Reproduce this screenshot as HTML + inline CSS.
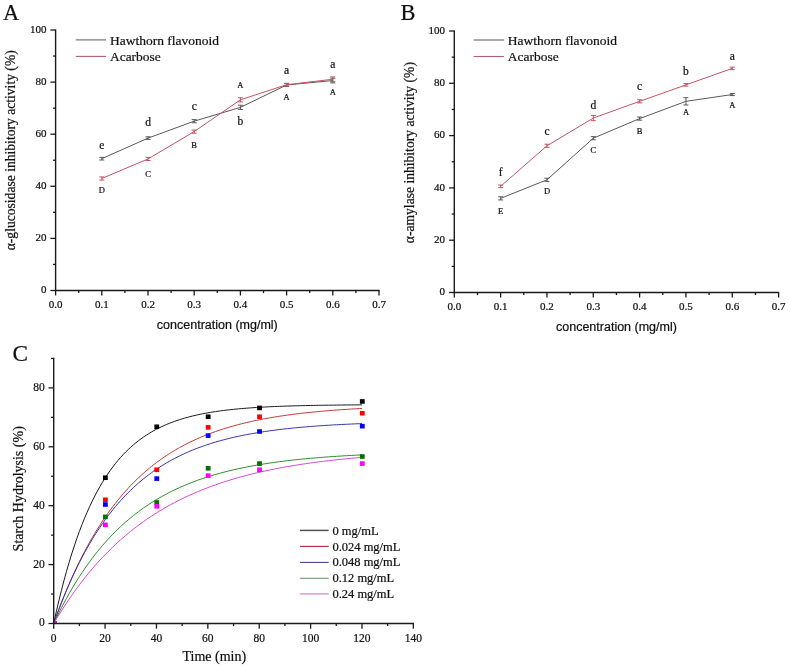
<!DOCTYPE html>
<html><head><meta charset="utf-8"><style>
html,body{margin:0;padding:0;background:#fff;}
svg{display:block;will-change:transform;}
text{fill:#111;stroke:#111;stroke-width:0.22px;}
</style></head><body>
<svg width="790" height="666" viewBox="0 0 790 666">
<rect width="790" height="666" fill="#fff"/>
<g style="opacity:0.999">
<line x1="55.60" y1="29.40" x2="55.60" y2="291.10" stroke="#1a1a1a" stroke-width="1.4"/>
<line x1="55.00" y1="290.50" x2="379.60" y2="290.50" stroke="#1a1a1a" stroke-width="1.4"/>
<line x1="50.40" y1="290.50" x2="55.60" y2="290.50" stroke="#1a1a1a" stroke-width="1.3"/>
<text x="46.40" y="293.30" font-family="Liberation Serif" font-size="11" text-anchor="end">0</text>
<line x1="53.00" y1="264.45" x2="55.60" y2="264.45" stroke="#1a1a1a" stroke-width="1.3"/>
<line x1="50.40" y1="238.40" x2="55.60" y2="238.40" stroke="#1a1a1a" stroke-width="1.3"/>
<text x="46.40" y="241.20" font-family="Liberation Serif" font-size="11" text-anchor="end">20</text>
<line x1="53.00" y1="212.35" x2="55.60" y2="212.35" stroke="#1a1a1a" stroke-width="1.3"/>
<line x1="50.40" y1="186.30" x2="55.60" y2="186.30" stroke="#1a1a1a" stroke-width="1.3"/>
<text x="46.40" y="189.10" font-family="Liberation Serif" font-size="11" text-anchor="end">40</text>
<line x1="53.00" y1="160.25" x2="55.60" y2="160.25" stroke="#1a1a1a" stroke-width="1.3"/>
<line x1="50.40" y1="134.20" x2="55.60" y2="134.20" stroke="#1a1a1a" stroke-width="1.3"/>
<text x="46.40" y="137.00" font-family="Liberation Serif" font-size="11" text-anchor="end">60</text>
<line x1="53.00" y1="108.15" x2="55.60" y2="108.15" stroke="#1a1a1a" stroke-width="1.3"/>
<line x1="50.40" y1="82.10" x2="55.60" y2="82.10" stroke="#1a1a1a" stroke-width="1.3"/>
<text x="46.40" y="84.90" font-family="Liberation Serif" font-size="11" text-anchor="end">80</text>
<line x1="53.00" y1="56.05" x2="55.60" y2="56.05" stroke="#1a1a1a" stroke-width="1.3"/>
<line x1="50.40" y1="30.00" x2="55.60" y2="30.00" stroke="#1a1a1a" stroke-width="1.3"/>
<text x="46.40" y="32.80" font-family="Liberation Serif" font-size="11" text-anchor="end">100</text>
<line x1="55.60" y1="290.50" x2="55.60" y2="295.50" stroke="#1a1a1a" stroke-width="1.3"/>
<text x="55.60" y="307.80" font-family="Liberation Serif" font-size="11" text-anchor="middle">0.0</text>
<line x1="78.70" y1="290.50" x2="78.70" y2="293.10" stroke="#1a1a1a" stroke-width="1.3"/>
<line x1="101.80" y1="290.50" x2="101.80" y2="295.50" stroke="#1a1a1a" stroke-width="1.3"/>
<text x="101.80" y="307.80" font-family="Liberation Serif" font-size="11" text-anchor="middle">0.1</text>
<line x1="124.90" y1="290.50" x2="124.90" y2="293.10" stroke="#1a1a1a" stroke-width="1.3"/>
<line x1="148.00" y1="290.50" x2="148.00" y2="295.50" stroke="#1a1a1a" stroke-width="1.3"/>
<text x="148.00" y="307.80" font-family="Liberation Serif" font-size="11" text-anchor="middle">0.2</text>
<line x1="171.10" y1="290.50" x2="171.10" y2="293.10" stroke="#1a1a1a" stroke-width="1.3"/>
<line x1="194.20" y1="290.50" x2="194.20" y2="295.50" stroke="#1a1a1a" stroke-width="1.3"/>
<text x="194.20" y="307.80" font-family="Liberation Serif" font-size="11" text-anchor="middle">0.3</text>
<line x1="217.30" y1="290.50" x2="217.30" y2="293.10" stroke="#1a1a1a" stroke-width="1.3"/>
<line x1="240.40" y1="290.50" x2="240.40" y2="295.50" stroke="#1a1a1a" stroke-width="1.3"/>
<text x="240.40" y="307.80" font-family="Liberation Serif" font-size="11" text-anchor="middle">0.4</text>
<line x1="263.50" y1="290.50" x2="263.50" y2="293.10" stroke="#1a1a1a" stroke-width="1.3"/>
<line x1="286.60" y1="290.50" x2="286.60" y2="295.50" stroke="#1a1a1a" stroke-width="1.3"/>
<text x="286.60" y="307.80" font-family="Liberation Serif" font-size="11" text-anchor="middle">0.5</text>
<line x1="309.70" y1="290.50" x2="309.70" y2="293.10" stroke="#1a1a1a" stroke-width="1.3"/>
<line x1="332.80" y1="290.50" x2="332.80" y2="295.50" stroke="#1a1a1a" stroke-width="1.3"/>
<text x="332.80" y="307.80" font-family="Liberation Serif" font-size="11" text-anchor="middle">0.6</text>
<line x1="355.90" y1="290.50" x2="355.90" y2="293.10" stroke="#1a1a1a" stroke-width="1.3"/>
<line x1="379.00" y1="290.50" x2="379.00" y2="295.50" stroke="#1a1a1a" stroke-width="1.3"/>
<text x="379.00" y="307.80" font-family="Liberation Serif" font-size="11" text-anchor="middle">0.7</text>
<text x="217.30" y="329.10" font-family="Liberation Sans" font-size="12.5" text-anchor="middle">concentration (mg/ml)</text>
<text transform="translate(14.60,250.30) rotate(-90)" font-family="Liberation Serif" font-size="13.6" text-anchor="start"><tspan font-family="Liberation Serif">α-glucosidase inhibitory activity (%)</tspan></text>
<polyline points="101.80,158.69 148.00,138.11 194.20,121.18 240.40,107.37 286.60,84.97 332.80,80.54" fill="none" stroke="#585858" stroke-width="1.0" stroke-linejoin="round"/>
<line x1="101.80" y1="157.38" x2="101.80" y2="159.99" stroke="#585858" stroke-width="1.0"/>
<line x1="99.30" y1="157.38" x2="104.30" y2="157.38" stroke="#585858" stroke-width="1.0"/>
<line x1="99.30" y1="159.99" x2="104.30" y2="159.99" stroke="#585858" stroke-width="1.0"/>
<line x1="148.00" y1="136.80" x2="148.00" y2="139.41" stroke="#585858" stroke-width="1.0"/>
<line x1="145.50" y1="136.80" x2="150.50" y2="136.80" stroke="#585858" stroke-width="1.0"/>
<line x1="145.50" y1="139.41" x2="150.50" y2="139.41" stroke="#585858" stroke-width="1.0"/>
<line x1="194.20" y1="119.61" x2="194.20" y2="122.74" stroke="#585858" stroke-width="1.0"/>
<line x1="191.70" y1="119.61" x2="196.70" y2="119.61" stroke="#585858" stroke-width="1.0"/>
<line x1="191.70" y1="122.74" x2="196.70" y2="122.74" stroke="#585858" stroke-width="1.0"/>
<line x1="240.40" y1="105.28" x2="240.40" y2="109.45" stroke="#585858" stroke-width="1.0"/>
<line x1="237.90" y1="105.28" x2="242.90" y2="105.28" stroke="#585858" stroke-width="1.0"/>
<line x1="237.90" y1="109.45" x2="242.90" y2="109.45" stroke="#585858" stroke-width="1.0"/>
<line x1="286.60" y1="83.40" x2="286.60" y2="86.53" stroke="#585858" stroke-width="1.0"/>
<line x1="284.10" y1="83.40" x2="289.10" y2="83.40" stroke="#585858" stroke-width="1.0"/>
<line x1="284.10" y1="86.53" x2="289.10" y2="86.53" stroke="#585858" stroke-width="1.0"/>
<line x1="332.80" y1="78.19" x2="332.80" y2="82.88" stroke="#585858" stroke-width="1.0"/>
<line x1="330.30" y1="78.19" x2="335.30" y2="78.19" stroke="#585858" stroke-width="1.0"/>
<line x1="330.30" y1="82.88" x2="335.30" y2="82.88" stroke="#585858" stroke-width="1.0"/>
<polyline points="101.80,178.49 148.00,158.95 194.20,131.59 240.40,99.81 286.60,84.71 332.80,79.23" fill="none" stroke="#c25464" stroke-width="1.0" stroke-linejoin="round"/>
<line x1="101.80" y1="176.92" x2="101.80" y2="180.05" stroke="#c25464" stroke-width="1.0"/>
<line x1="99.30" y1="176.92" x2="104.30" y2="176.92" stroke="#c25464" stroke-width="1.0"/>
<line x1="99.30" y1="180.05" x2="104.30" y2="180.05" stroke="#c25464" stroke-width="1.0"/>
<line x1="148.00" y1="157.38" x2="148.00" y2="160.51" stroke="#c25464" stroke-width="1.0"/>
<line x1="145.50" y1="157.38" x2="150.50" y2="157.38" stroke="#c25464" stroke-width="1.0"/>
<line x1="145.50" y1="160.51" x2="150.50" y2="160.51" stroke="#c25464" stroke-width="1.0"/>
<line x1="194.20" y1="130.03" x2="194.20" y2="133.16" stroke="#c25464" stroke-width="1.0"/>
<line x1="191.70" y1="130.03" x2="196.70" y2="130.03" stroke="#c25464" stroke-width="1.0"/>
<line x1="191.70" y1="133.16" x2="196.70" y2="133.16" stroke="#c25464" stroke-width="1.0"/>
<line x1="240.40" y1="97.73" x2="240.40" y2="101.90" stroke="#c25464" stroke-width="1.0"/>
<line x1="237.90" y1="97.73" x2="242.90" y2="97.73" stroke="#c25464" stroke-width="1.0"/>
<line x1="237.90" y1="101.90" x2="242.90" y2="101.90" stroke="#c25464" stroke-width="1.0"/>
<line x1="286.60" y1="83.40" x2="286.60" y2="86.01" stroke="#c25464" stroke-width="1.0"/>
<line x1="284.10" y1="83.40" x2="289.10" y2="83.40" stroke="#c25464" stroke-width="1.0"/>
<line x1="284.10" y1="86.01" x2="289.10" y2="86.01" stroke="#c25464" stroke-width="1.0"/>
<line x1="332.80" y1="76.89" x2="332.80" y2="81.58" stroke="#c25464" stroke-width="1.0"/>
<line x1="330.30" y1="76.89" x2="335.30" y2="76.89" stroke="#c25464" stroke-width="1.0"/>
<line x1="330.30" y1="81.58" x2="335.30" y2="81.58" stroke="#c25464" stroke-width="1.0"/>
<line x1="454.30" y1="30.40" x2="454.30" y2="293.10" stroke="#1a1a1a" stroke-width="1.4"/>
<line x1="453.70" y1="292.50" x2="779.21" y2="292.50" stroke="#1a1a1a" stroke-width="1.4"/>
<line x1="449.10" y1="292.50" x2="454.30" y2="292.50" stroke="#1a1a1a" stroke-width="1.3"/>
<text x="445.10" y="295.30" font-family="Liberation Serif" font-size="11" text-anchor="end">0</text>
<line x1="451.70" y1="266.35" x2="454.30" y2="266.35" stroke="#1a1a1a" stroke-width="1.3"/>
<line x1="449.10" y1="240.20" x2="454.30" y2="240.20" stroke="#1a1a1a" stroke-width="1.3"/>
<text x="445.10" y="243.00" font-family="Liberation Serif" font-size="11" text-anchor="end">20</text>
<line x1="451.70" y1="214.05" x2="454.30" y2="214.05" stroke="#1a1a1a" stroke-width="1.3"/>
<line x1="449.10" y1="187.90" x2="454.30" y2="187.90" stroke="#1a1a1a" stroke-width="1.3"/>
<text x="445.10" y="190.70" font-family="Liberation Serif" font-size="11" text-anchor="end">40</text>
<line x1="451.70" y1="161.75" x2="454.30" y2="161.75" stroke="#1a1a1a" stroke-width="1.3"/>
<line x1="449.10" y1="135.60" x2="454.30" y2="135.60" stroke="#1a1a1a" stroke-width="1.3"/>
<text x="445.10" y="138.40" font-family="Liberation Serif" font-size="11" text-anchor="end">60</text>
<line x1="451.70" y1="109.45" x2="454.30" y2="109.45" stroke="#1a1a1a" stroke-width="1.3"/>
<line x1="449.10" y1="83.30" x2="454.30" y2="83.30" stroke="#1a1a1a" stroke-width="1.3"/>
<text x="445.10" y="86.10" font-family="Liberation Serif" font-size="11" text-anchor="end">80</text>
<line x1="451.70" y1="57.15" x2="454.30" y2="57.15" stroke="#1a1a1a" stroke-width="1.3"/>
<line x1="449.10" y1="31.00" x2="454.30" y2="31.00" stroke="#1a1a1a" stroke-width="1.3"/>
<text x="445.10" y="33.80" font-family="Liberation Serif" font-size="11" text-anchor="end">100</text>
<line x1="454.30" y1="292.50" x2="454.30" y2="297.50" stroke="#1a1a1a" stroke-width="1.3"/>
<text x="454.30" y="309.80" font-family="Liberation Serif" font-size="11" text-anchor="middle">0.0</text>
<line x1="477.47" y1="292.50" x2="477.47" y2="295.10" stroke="#1a1a1a" stroke-width="1.3"/>
<line x1="500.63" y1="292.50" x2="500.63" y2="297.50" stroke="#1a1a1a" stroke-width="1.3"/>
<text x="500.63" y="309.80" font-family="Liberation Serif" font-size="11" text-anchor="middle">0.1</text>
<line x1="523.80" y1="292.50" x2="523.80" y2="295.10" stroke="#1a1a1a" stroke-width="1.3"/>
<line x1="546.96" y1="292.50" x2="546.96" y2="297.50" stroke="#1a1a1a" stroke-width="1.3"/>
<text x="546.96" y="309.80" font-family="Liberation Serif" font-size="11" text-anchor="middle">0.2</text>
<line x1="570.12" y1="292.50" x2="570.12" y2="295.10" stroke="#1a1a1a" stroke-width="1.3"/>
<line x1="593.29" y1="292.50" x2="593.29" y2="297.50" stroke="#1a1a1a" stroke-width="1.3"/>
<text x="593.29" y="309.80" font-family="Liberation Serif" font-size="11" text-anchor="middle">0.3</text>
<line x1="616.46" y1="292.50" x2="616.46" y2="295.10" stroke="#1a1a1a" stroke-width="1.3"/>
<line x1="639.62" y1="292.50" x2="639.62" y2="297.50" stroke="#1a1a1a" stroke-width="1.3"/>
<text x="639.62" y="309.80" font-family="Liberation Serif" font-size="11" text-anchor="middle">0.4</text>
<line x1="662.78" y1="292.50" x2="662.78" y2="295.10" stroke="#1a1a1a" stroke-width="1.3"/>
<line x1="685.95" y1="292.50" x2="685.95" y2="297.50" stroke="#1a1a1a" stroke-width="1.3"/>
<text x="685.95" y="309.80" font-family="Liberation Serif" font-size="11" text-anchor="middle">0.5</text>
<line x1="709.12" y1="292.50" x2="709.12" y2="295.10" stroke="#1a1a1a" stroke-width="1.3"/>
<line x1="732.28" y1="292.50" x2="732.28" y2="297.50" stroke="#1a1a1a" stroke-width="1.3"/>
<text x="732.28" y="309.80" font-family="Liberation Serif" font-size="11" text-anchor="middle">0.6</text>
<line x1="755.44" y1="292.50" x2="755.44" y2="295.10" stroke="#1a1a1a" stroke-width="1.3"/>
<line x1="778.61" y1="292.50" x2="778.61" y2="297.50" stroke="#1a1a1a" stroke-width="1.3"/>
<text x="778.61" y="309.80" font-family="Liberation Serif" font-size="11" text-anchor="middle">0.7</text>
<text x="616.46" y="330.90" font-family="Liberation Sans" font-size="12.5" text-anchor="middle">concentration (mg/ml)</text>
<text transform="translate(414.00,243.20) rotate(-90)" font-family="Liberation Serif" font-size="13.6" text-anchor="start"><tspan font-family="Liberation Serif">α-amylase inhibitory activity (%)</tspan></text>
<polyline points="500.63,198.36 546.96,179.79 593.29,138.21 639.62,118.60 685.95,101.34 732.28,94.54" fill="none" stroke="#585858" stroke-width="1.0" stroke-linejoin="round"/>
<line x1="500.63" y1="196.79" x2="500.63" y2="199.93" stroke="#585858" stroke-width="1.0"/>
<line x1="498.13" y1="196.79" x2="503.13" y2="196.79" stroke="#585858" stroke-width="1.0"/>
<line x1="498.13" y1="199.93" x2="503.13" y2="199.93" stroke="#585858" stroke-width="1.0"/>
<line x1="546.96" y1="178.22" x2="546.96" y2="181.36" stroke="#585858" stroke-width="1.0"/>
<line x1="544.46" y1="178.22" x2="549.46" y2="178.22" stroke="#585858" stroke-width="1.0"/>
<line x1="544.46" y1="181.36" x2="549.46" y2="181.36" stroke="#585858" stroke-width="1.0"/>
<line x1="593.29" y1="136.65" x2="593.29" y2="139.78" stroke="#585858" stroke-width="1.0"/>
<line x1="590.79" y1="136.65" x2="595.79" y2="136.65" stroke="#585858" stroke-width="1.0"/>
<line x1="590.79" y1="139.78" x2="595.79" y2="139.78" stroke="#585858" stroke-width="1.0"/>
<line x1="639.62" y1="117.03" x2="639.62" y2="120.17" stroke="#585858" stroke-width="1.0"/>
<line x1="637.12" y1="117.03" x2="642.12" y2="117.03" stroke="#585858" stroke-width="1.0"/>
<line x1="637.12" y1="120.17" x2="642.12" y2="120.17" stroke="#585858" stroke-width="1.0"/>
<line x1="685.95" y1="97.68" x2="685.95" y2="105.00" stroke="#585858" stroke-width="1.0"/>
<line x1="683.45" y1="97.68" x2="688.45" y2="97.68" stroke="#585858" stroke-width="1.0"/>
<line x1="683.45" y1="105.00" x2="688.45" y2="105.00" stroke="#585858" stroke-width="1.0"/>
<line x1="732.28" y1="93.50" x2="732.28" y2="95.59" stroke="#585858" stroke-width="1.0"/>
<line x1="729.78" y1="93.50" x2="734.78" y2="93.50" stroke="#585858" stroke-width="1.0"/>
<line x1="729.78" y1="95.59" x2="734.78" y2="95.59" stroke="#585858" stroke-width="1.0"/>
<polyline points="500.63,186.33 546.96,145.80 593.29,118.08 639.62,101.34 685.95,84.87 732.28,68.39" fill="none" stroke="#c25464" stroke-width="1.0" stroke-linejoin="round"/>
<line x1="500.63" y1="185.02" x2="500.63" y2="187.64" stroke="#c25464" stroke-width="1.0"/>
<line x1="498.13" y1="185.02" x2="503.13" y2="185.02" stroke="#c25464" stroke-width="1.0"/>
<line x1="498.13" y1="187.64" x2="503.13" y2="187.64" stroke="#c25464" stroke-width="1.0"/>
<line x1="546.96" y1="144.23" x2="546.96" y2="147.37" stroke="#c25464" stroke-width="1.0"/>
<line x1="544.46" y1="144.23" x2="549.46" y2="144.23" stroke="#c25464" stroke-width="1.0"/>
<line x1="544.46" y1="147.37" x2="549.46" y2="147.37" stroke="#c25464" stroke-width="1.0"/>
<line x1="593.29" y1="115.46" x2="593.29" y2="120.69" stroke="#c25464" stroke-width="1.0"/>
<line x1="590.79" y1="115.46" x2="595.79" y2="115.46" stroke="#c25464" stroke-width="1.0"/>
<line x1="590.79" y1="120.69" x2="595.79" y2="120.69" stroke="#c25464" stroke-width="1.0"/>
<line x1="639.62" y1="99.77" x2="639.62" y2="102.91" stroke="#c25464" stroke-width="1.0"/>
<line x1="637.12" y1="99.77" x2="642.12" y2="99.77" stroke="#c25464" stroke-width="1.0"/>
<line x1="637.12" y1="102.91" x2="642.12" y2="102.91" stroke="#c25464" stroke-width="1.0"/>
<line x1="685.95" y1="83.56" x2="685.95" y2="86.18" stroke="#c25464" stroke-width="1.0"/>
<line x1="683.45" y1="83.56" x2="688.45" y2="83.56" stroke="#c25464" stroke-width="1.0"/>
<line x1="683.45" y1="86.18" x2="688.45" y2="86.18" stroke="#c25464" stroke-width="1.0"/>
<line x1="732.28" y1="67.09" x2="732.28" y2="69.70" stroke="#c25464" stroke-width="1.0"/>
<line x1="729.78" y1="67.09" x2="734.78" y2="67.09" stroke="#c25464" stroke-width="1.0"/>
<line x1="729.78" y1="69.70" x2="734.78" y2="69.70" stroke="#c25464" stroke-width="1.0"/>
<text x="101.80" y="149.10" font-family="Liberation Serif" font-size="11.5" text-anchor="middle">e</text>
<text x="148.00" y="126.20" font-family="Liberation Serif" font-size="11.5" text-anchor="middle">d</text>
<text x="194.20" y="109.90" font-family="Liberation Serif" font-size="11.5" text-anchor="middle">c</text>
<text x="240.40" y="124.90" font-family="Liberation Serif" font-size="11.5" text-anchor="middle">b</text>
<text x="286.60" y="73.90" font-family="Liberation Serif" font-size="11.5" text-anchor="middle">a</text>
<text x="332.80" y="67.70" font-family="Liberation Serif" font-size="11.5" text-anchor="middle">a</text>
<text x="101.80" y="193.00" font-family="Liberation Serif" font-size="8.5" text-anchor="middle">D</text>
<text x="148.00" y="176.80" font-family="Liberation Serif" font-size="8.5" text-anchor="middle">C</text>
<text x="194.20" y="148.10" font-family="Liberation Serif" font-size="8.5" text-anchor="middle">B</text>
<text x="240.40" y="87.50" font-family="Liberation Serif" font-size="8.5" text-anchor="middle">A</text>
<text x="286.60" y="99.60" font-family="Liberation Serif" font-size="8.5" text-anchor="middle">A</text>
<text x="332.80" y="95.10" font-family="Liberation Serif" font-size="8.5" text-anchor="middle">A</text>
<text x="500.63" y="176.40" font-family="Liberation Serif" font-size="11.5" text-anchor="middle">f</text>
<text x="546.96" y="134.50" font-family="Liberation Serif" font-size="11.5" text-anchor="middle">c</text>
<text x="593.29" y="108.70" font-family="Liberation Serif" font-size="11.5" text-anchor="middle">d</text>
<text x="639.62" y="90.20" font-family="Liberation Serif" font-size="11.5" text-anchor="middle">c</text>
<text x="685.95" y="75.00" font-family="Liberation Serif" font-size="11.5" text-anchor="middle">b</text>
<text x="732.28" y="59.70" font-family="Liberation Serif" font-size="11.5" text-anchor="middle">a</text>
<text x="500.63" y="213.90" font-family="Liberation Serif" font-size="8.5" text-anchor="middle">E</text>
<text x="546.96" y="194.40" font-family="Liberation Serif" font-size="8.5" text-anchor="middle">D</text>
<text x="593.29" y="153.40" font-family="Liberation Serif" font-size="8.5" text-anchor="middle">C</text>
<text x="639.62" y="134.20" font-family="Liberation Serif" font-size="8.5" text-anchor="middle">B</text>
<text x="685.95" y="114.50" font-family="Liberation Serif" font-size="8.5" text-anchor="middle">A</text>
<text x="732.28" y="107.80" font-family="Liberation Serif" font-size="8.5" text-anchor="middle">A</text>
<line x1="75.70" y1="39.80" x2="106.00" y2="39.80" stroke="#a0a0a0" stroke-width="1.8"/>
<line x1="75.70" y1="56.40" x2="106.00" y2="56.40" stroke="#b06070" stroke-width="1.1"/>
<text x="109.90" y="44.60" font-family="Liberation Serif" font-size="13.5" text-anchor="start">Hawthorn flavonoid</text>
<text x="109.90" y="61.20" font-family="Liberation Serif" font-size="13.5" text-anchor="start">Acarbose</text>
<line x1="473.60" y1="40.00" x2="503.90" y2="40.00" stroke="#a0a0a0" stroke-width="1.8"/>
<line x1="473.60" y1="56.50" x2="503.90" y2="56.50" stroke="#b06070" stroke-width="1.1"/>
<text x="507.80" y="44.80" font-family="Liberation Serif" font-size="13.5" text-anchor="start">Hawthorn flavonoid</text>
<text x="507.80" y="61.30" font-family="Liberation Serif" font-size="13.5" text-anchor="start">Acarbose</text>
<text x="3.00" y="20.20" font-family="Liberation Serif" font-size="22.4" text-anchor="start">A</text>
<text x="400.50" y="19.80" font-family="Liberation Serif" font-size="22.4" text-anchor="start">B</text>
<text x="12.60" y="361.10" font-family="Liberation Serif" font-size="23.2" text-anchor="start">C</text>
<line x1="48.50" y1="623.50" x2="53.70" y2="623.50" stroke="#1a1a1a" stroke-width="1.3"/>
<text x="44.70" y="626.40" font-family="Liberation Serif" font-size="11.5" text-anchor="end">0</text>
<line x1="51.10" y1="594.05" x2="53.70" y2="594.05" stroke="#1a1a1a" stroke-width="1.3"/>
<line x1="48.50" y1="564.60" x2="53.70" y2="564.60" stroke="#1a1a1a" stroke-width="1.3"/>
<text x="44.70" y="567.50" font-family="Liberation Serif" font-size="11.5" text-anchor="end">20</text>
<line x1="51.10" y1="535.15" x2="53.70" y2="535.15" stroke="#1a1a1a" stroke-width="1.3"/>
<line x1="48.50" y1="505.70" x2="53.70" y2="505.70" stroke="#1a1a1a" stroke-width="1.3"/>
<text x="44.70" y="508.60" font-family="Liberation Serif" font-size="11.5" text-anchor="end">40</text>
<line x1="51.10" y1="476.25" x2="53.70" y2="476.25" stroke="#1a1a1a" stroke-width="1.3"/>
<line x1="48.50" y1="446.80" x2="53.70" y2="446.80" stroke="#1a1a1a" stroke-width="1.3"/>
<text x="44.70" y="449.70" font-family="Liberation Serif" font-size="11.5" text-anchor="end">60</text>
<line x1="51.10" y1="417.35" x2="53.70" y2="417.35" stroke="#1a1a1a" stroke-width="1.3"/>
<line x1="48.50" y1="387.90" x2="53.70" y2="387.90" stroke="#1a1a1a" stroke-width="1.3"/>
<text x="44.70" y="390.80" font-family="Liberation Serif" font-size="11.5" text-anchor="end">80</text>
<line x1="51.10" y1="358.45" x2="53.70" y2="358.45" stroke="#1a1a1a" stroke-width="1.3"/>
<line x1="53.70" y1="623.50" x2="53.70" y2="628.70" stroke="#1a1a1a" stroke-width="1.3"/>
<text x="53.70" y="641.50" font-family="Liberation Serif" font-size="11.5" text-anchor="middle">0</text>
<line x1="79.39" y1="623.50" x2="79.39" y2="626.10" stroke="#1a1a1a" stroke-width="1.3"/>
<line x1="105.08" y1="623.50" x2="105.08" y2="628.70" stroke="#1a1a1a" stroke-width="1.3"/>
<text x="105.08" y="641.50" font-family="Liberation Serif" font-size="11.5" text-anchor="middle">20</text>
<line x1="130.77" y1="623.50" x2="130.77" y2="626.10" stroke="#1a1a1a" stroke-width="1.3"/>
<line x1="156.46" y1="623.50" x2="156.46" y2="628.70" stroke="#1a1a1a" stroke-width="1.3"/>
<text x="156.46" y="641.50" font-family="Liberation Serif" font-size="11.5" text-anchor="middle">40</text>
<line x1="182.15" y1="623.50" x2="182.15" y2="626.10" stroke="#1a1a1a" stroke-width="1.3"/>
<line x1="207.84" y1="623.50" x2="207.84" y2="628.70" stroke="#1a1a1a" stroke-width="1.3"/>
<text x="207.84" y="641.50" font-family="Liberation Serif" font-size="11.5" text-anchor="middle">60</text>
<line x1="233.53" y1="623.50" x2="233.53" y2="626.10" stroke="#1a1a1a" stroke-width="1.3"/>
<line x1="259.22" y1="623.50" x2="259.22" y2="628.70" stroke="#1a1a1a" stroke-width="1.3"/>
<text x="259.22" y="641.50" font-family="Liberation Serif" font-size="11.5" text-anchor="middle">80</text>
<line x1="284.91" y1="623.50" x2="284.91" y2="626.10" stroke="#1a1a1a" stroke-width="1.3"/>
<line x1="310.60" y1="623.50" x2="310.60" y2="628.70" stroke="#1a1a1a" stroke-width="1.3"/>
<text x="310.60" y="641.50" font-family="Liberation Serif" font-size="11.5" text-anchor="middle">100</text>
<line x1="336.29" y1="623.50" x2="336.29" y2="626.10" stroke="#1a1a1a" stroke-width="1.3"/>
<line x1="361.98" y1="623.50" x2="361.98" y2="628.70" stroke="#1a1a1a" stroke-width="1.3"/>
<text x="361.98" y="641.50" font-family="Liberation Serif" font-size="11.5" text-anchor="middle">120</text>
<line x1="387.67" y1="623.50" x2="387.67" y2="626.10" stroke="#1a1a1a" stroke-width="1.3"/>
<line x1="413.36" y1="623.50" x2="413.36" y2="628.70" stroke="#1a1a1a" stroke-width="1.3"/>
<text x="413.36" y="641.50" font-family="Liberation Serif" font-size="11.5" text-anchor="middle">140</text>
<text x="214.30" y="661.10" font-family="Liberation Serif" font-size="14" text-anchor="middle">Time (min)</text>
<text transform="translate(22.60,551.40) rotate(-90)" font-family="Liberation Serif" font-size="14" text-anchor="start"><tspan font-family="Liberation Serif">Starch Hydrolysis (%)</tspan></text>
<clipPath id="cc"><rect x="53.7" y="358.45" width="359.65999999999997" height="265.05"/></clipPath>
<g clip-path="url(#cc)">
<polyline points="53.70,623.50 56.27,611.87 58.84,600.86 61.41,590.44 63.98,580.57 66.55,571.22 69.11,562.37 71.68,553.99 74.25,546.06 76.82,538.54 79.39,531.43 81.96,524.69 84.53,518.31 87.10,512.27 89.67,506.55 92.23,501.13 94.80,496.00 97.37,491.15 99.94,486.55 102.51,482.19 105.08,478.07 107.65,474.16 110.22,470.47 112.79,466.97 115.36,463.65 117.92,460.51 120.49,457.54 123.06,454.73 125.63,452.06 128.20,449.54 130.77,447.15 133.34,444.89 135.91,442.74 138.48,440.72 141.05,438.79 143.62,436.98 146.18,435.25 148.75,433.62 151.32,432.08 153.89,430.62 156.46,429.23 159.03,427.92 161.60,426.68 164.17,425.50 166.74,424.39 169.31,423.34 171.87,422.34 174.44,421.39 177.01,420.50 179.58,419.65 182.15,418.85 184.72,418.09 187.29,417.37 189.86,416.69 192.43,416.04 195.00,415.43 197.56,414.85 200.13,414.31 202.70,413.79 205.27,413.30 207.84,412.83 210.41,412.39 212.98,411.97 215.55,411.58 218.12,411.21 220.69,410.85 223.25,410.52 225.82,410.20 228.39,409.90 230.96,409.61 233.53,409.34 236.10,409.09 238.67,408.85 241.24,408.62 243.81,408.40 246.38,408.20 248.94,408.00 251.51,407.82 254.08,407.64 256.65,407.48 259.22,407.32 261.79,407.18 264.36,407.04 266.93,406.90 269.50,406.78 272.06,406.66 274.63,406.55 277.20,406.44 279.77,406.34 282.34,406.24 284.91,406.15 287.48,406.07 290.05,405.99 292.62,405.91 295.19,405.84 297.75,405.77 300.32,405.70 302.89,405.64 305.46,405.58 308.03,405.53 310.60,405.47 313.17,405.42 315.74,405.38 318.31,405.33 320.88,405.29 323.44,405.25 326.01,405.21 328.58,405.18 331.15,405.14 333.72,405.11 336.29,405.08 338.86,405.05 341.43,405.03 344.00,405.00 346.57,404.97 349.13,404.95 351.70,404.93 354.27,404.91 356.84,404.89 359.41,404.87 361.98,404.85" fill="none" stroke="#1a1a1a" stroke-width="1.0" stroke-linejoin="round"/>
<polyline points="53.70,623.50 56.27,616.36 58.84,609.45 61.41,602.77 63.98,596.31 66.55,590.05 69.11,584.00 71.68,578.15 74.25,572.49 76.82,567.01 79.39,561.71 81.96,556.58 84.53,551.62 87.10,546.82 89.67,542.18 92.23,537.69 94.80,533.35 97.37,529.14 99.94,525.08 102.51,521.14 105.08,517.34 107.65,513.66 110.22,510.10 112.79,506.65 115.36,503.32 117.92,500.09 120.49,496.97 123.06,493.95 125.63,491.03 128.20,488.21 130.77,485.48 133.34,482.83 135.91,480.28 138.48,477.80 141.05,475.41 143.62,473.09 146.18,470.85 148.75,468.69 151.32,466.59 153.89,464.56 156.46,462.60 159.03,460.70 161.60,458.87 164.17,457.09 166.74,455.37 169.31,453.71 171.87,452.10 174.44,450.54 177.01,449.04 179.58,447.58 182.15,446.17 184.72,444.81 187.29,443.49 189.86,442.22 192.43,440.98 195.00,439.79 197.56,438.63 200.13,437.51 202.70,436.43 205.27,435.39 207.84,434.38 210.41,433.40 212.98,432.45 215.55,431.53 218.12,430.65 220.69,429.79 223.25,428.96 225.82,428.16 228.39,427.38 230.96,426.63 233.53,425.91 236.10,425.20 238.67,424.52 241.24,423.87 243.81,423.23 246.38,422.61 248.94,422.02 251.51,421.44 254.08,420.88 256.65,420.35 259.22,419.82 261.79,419.32 264.36,418.83 266.93,418.36 269.50,417.90 272.06,417.46 274.63,417.03 277.20,416.62 279.77,416.22 282.34,415.83 284.91,415.46 287.48,415.09 290.05,414.74 292.62,414.40 295.19,414.08 297.75,413.76 300.32,413.45 302.89,413.15 305.46,412.87 308.03,412.59 310.60,412.32 313.17,412.06 315.74,411.81 318.31,411.56 320.88,411.33 323.44,411.10 326.01,410.88 328.58,410.67 331.15,410.46 333.72,410.26 336.29,410.07 338.86,409.88 341.43,409.70 344.00,409.53 346.57,409.36 349.13,409.19 351.70,409.03 354.27,408.88 356.84,408.73 359.41,408.59 361.98,408.45" fill="none" stroke="#c03838" stroke-width="1.0" stroke-linejoin="round"/>
<polyline points="53.70,623.50 56.27,616.37 58.84,609.50 61.41,602.87 63.98,596.47 66.55,590.29 69.11,584.33 71.68,578.58 74.25,573.04 76.82,567.69 79.39,562.52 81.96,557.54 84.53,552.74 87.10,548.10 89.67,543.62 92.23,539.31 94.80,535.14 97.37,531.12 99.94,527.24 102.51,523.50 105.08,519.89 107.65,516.41 110.22,513.05 112.79,509.81 115.36,506.68 117.92,503.66 120.49,500.75 123.06,497.94 125.63,495.23 128.20,492.61 130.77,490.09 133.34,487.65 135.91,485.30 138.48,483.04 141.05,480.85 143.62,478.74 146.18,476.70 148.75,474.74 151.32,472.84 153.89,471.01 156.46,469.25 159.03,467.55 161.60,465.90 164.17,464.32 166.74,462.79 169.31,461.32 171.87,459.89 174.44,458.52 177.01,457.19 179.58,455.91 182.15,454.68 184.72,453.49 187.29,452.34 189.86,451.23 192.43,450.16 195.00,449.13 197.56,448.14 200.13,447.18 202.70,446.25 205.27,445.36 207.84,444.49 210.41,443.66 212.98,442.86 215.55,442.09 218.12,441.34 220.69,440.62 223.25,439.92 225.82,439.25 228.39,438.60 230.96,437.98 233.53,437.37 236.10,436.79 238.67,436.23 241.24,435.69 243.81,435.17 246.38,434.66 248.94,434.18 251.51,433.71 254.08,433.25 256.65,432.82 259.22,432.39 261.79,431.99 264.36,431.60 266.93,431.22 269.50,430.85 272.06,430.50 274.63,430.16 277.20,429.83 279.77,429.51 282.34,429.21 284.91,428.91 287.48,428.63 290.05,428.36 292.62,428.09 295.19,427.84 297.75,427.59 300.32,427.35 302.89,427.12 305.46,426.90 308.03,426.69 310.60,426.48 313.17,426.28 315.74,426.09 318.31,425.90 320.88,425.73 323.44,425.55 326.01,425.39 328.58,425.23 331.15,425.07 333.72,424.92 336.29,424.78 338.86,424.64 341.43,424.51 344.00,424.38 346.57,424.25 349.13,424.13 351.70,424.01 354.27,423.90 356.84,423.79 359.41,423.69 361.98,423.59" fill="none" stroke="#3535a5" stroke-width="1.0" stroke-linejoin="round"/>
<polyline points="53.70,623.50 56.27,618.12 58.84,612.91 61.41,607.86 63.98,602.97 66.55,598.24 69.11,593.65 71.68,589.20 74.25,584.89 76.82,580.72 79.39,576.67 81.96,572.76 84.53,568.96 87.10,565.28 89.67,561.72 92.23,558.27 94.80,554.93 97.37,551.69 99.94,548.55 102.51,545.51 105.08,542.56 107.65,539.71 110.22,536.94 112.79,534.26 115.36,531.67 117.92,529.15 120.49,526.72 123.06,524.36 125.63,522.07 128.20,519.86 130.77,517.71 133.34,515.63 135.91,513.62 138.48,511.67 141.05,509.78 143.62,507.94 146.18,506.17 148.75,504.45 151.32,502.79 153.89,501.17 156.46,499.61 159.03,498.09 161.60,496.63 164.17,495.21 166.74,493.83 169.31,492.49 171.87,491.20 174.44,489.95 177.01,488.74 179.58,487.56 182.15,486.42 184.72,485.32 187.29,484.25 189.86,483.21 192.43,482.21 195.00,481.24 197.56,480.30 200.13,479.38 202.70,478.50 205.27,477.64 207.84,476.81 210.41,476.01 212.98,475.23 215.55,474.48 218.12,473.75 220.69,473.04 223.25,472.35 225.82,471.69 228.39,471.04 230.96,470.42 233.53,469.82 236.10,469.23 238.67,468.66 241.24,468.11 243.81,467.58 246.38,467.07 248.94,466.57 251.51,466.08 254.08,465.61 256.65,465.16 259.22,464.72 261.79,464.29 264.36,463.88 266.93,463.48 269.50,463.09 272.06,462.71 274.63,462.35 277.20,462.00 279.77,461.66 282.34,461.33 284.91,461.00 287.48,460.69 290.05,460.39 292.62,460.10 295.19,459.82 297.75,459.55 300.32,459.28 302.89,459.02 305.46,458.77 308.03,458.53 310.60,458.30 313.17,458.07 315.74,457.85 318.31,457.64 320.88,457.44 323.44,457.24 326.01,457.04 328.58,456.86 331.15,456.67 333.72,456.50 336.29,456.33 338.86,456.16 341.43,456.00 344.00,455.85 346.57,455.70 349.13,455.55 351.70,455.41 354.27,455.28 356.84,455.14 359.41,455.02 361.98,454.89" fill="none" stroke="#2f8a2f" stroke-width="1.0" stroke-linejoin="round"/>
<polyline points="53.70,623.50 56.27,619.18 58.84,614.97 61.41,610.86 63.98,606.86 66.55,602.95 69.11,599.14 71.68,595.43 74.25,591.80 76.82,588.27 79.39,584.82 81.96,581.46 84.53,578.18 87.10,574.98 89.67,571.86 92.23,568.81 94.80,565.85 97.37,562.95 99.94,560.13 102.51,557.38 105.08,554.69 107.65,552.07 110.22,549.52 112.79,547.03 115.36,544.60 117.92,542.23 120.49,539.92 123.06,537.66 125.63,535.47 128.20,533.32 130.77,531.23 133.34,529.19 135.91,527.20 138.48,525.26 141.05,523.37 143.62,521.52 146.18,519.72 148.75,517.97 151.32,516.26 153.89,514.59 156.46,512.96 159.03,511.37 161.60,509.82 164.17,508.31 166.74,506.84 169.31,505.40 171.87,504.00 174.44,502.63 177.01,501.30 179.58,500.00 182.15,498.73 184.72,497.49 187.29,496.28 189.86,495.11 192.43,493.96 195.00,492.84 197.56,491.75 200.13,490.68 202.70,489.65 205.27,488.63 207.84,487.65 210.41,486.68 212.98,485.74 215.55,484.83 218.12,483.93 220.69,483.06 223.25,482.21 225.82,481.38 228.39,480.57 230.96,479.78 233.53,479.01 236.10,478.26 238.67,477.53 241.24,476.82 243.81,476.12 246.38,475.44 248.94,474.78 251.51,474.14 254.08,473.51 256.65,472.89 259.22,472.29 261.79,471.71 264.36,471.14 266.93,470.58 269.50,470.04 272.06,469.51 274.63,469.00 277.20,468.49 279.77,468.00 282.34,467.52 284.91,467.06 287.48,466.60 290.05,466.16 292.62,465.73 295.19,465.30 297.75,464.89 300.32,464.49 302.89,464.10 305.46,463.72 308.03,463.34 310.60,462.98 313.17,462.63 315.74,462.28 318.31,461.94 320.88,461.61 323.44,461.29 326.01,460.98 328.58,460.68 331.15,460.38 333.72,460.09 336.29,459.81 338.86,459.53 341.43,459.26 344.00,459.00 346.57,458.74 349.13,458.49 351.70,458.25 354.27,458.01 356.84,457.78 359.41,457.55 361.98,457.33" fill="none" stroke="#d048d0" stroke-width="1.0" stroke-linejoin="round"/>
<rect x="51.60" y="621.20" width="4.8" height="4.6" fill="#000000"/>
<rect x="102.98" y="475.42" width="4.8" height="4.6" fill="#000000"/>
<rect x="154.36" y="424.47" width="4.8" height="4.6" fill="#000000"/>
<rect x="205.74" y="414.46" width="4.8" height="4.6" fill="#000000"/>
<rect x="257.12" y="405.63" width="4.8" height="4.6" fill="#000000"/>
<rect x="359.88" y="399.15" width="4.8" height="4.6" fill="#000000"/>
<rect x="51.60" y="621.20" width="4.8" height="4.6" fill="#ff0000"/>
<rect x="102.98" y="497.51" width="4.8" height="4.6" fill="#ff0000"/>
<rect x="154.36" y="467.47" width="4.8" height="4.6" fill="#ff0000"/>
<rect x="205.74" y="425.06" width="4.8" height="4.6" fill="#ff0000"/>
<rect x="257.12" y="414.46" width="4.8" height="4.6" fill="#ff0000"/>
<rect x="359.88" y="410.93" width="4.8" height="4.6" fill="#ff0000"/>
<rect x="51.60" y="621.20" width="4.8" height="4.6" fill="#0000ff"/>
<rect x="102.98" y="502.22" width="4.8" height="4.6" fill="#0000ff"/>
<rect x="154.36" y="476.31" width="4.8" height="4.6" fill="#0000ff"/>
<rect x="205.74" y="433.31" width="4.8" height="4.6" fill="#0000ff"/>
<rect x="257.12" y="429.19" width="4.8" height="4.6" fill="#0000ff"/>
<rect x="359.88" y="423.88" width="4.8" height="4.6" fill="#0000ff"/>
<rect x="51.60" y="621.20" width="4.8" height="4.6" fill="#007000"/>
<rect x="102.98" y="514.59" width="4.8" height="4.6" fill="#007000"/>
<rect x="154.36" y="500.16" width="4.8" height="4.6" fill="#007000"/>
<rect x="205.74" y="466.00" width="4.8" height="4.6" fill="#007000"/>
<rect x="257.12" y="461.29" width="4.8" height="4.6" fill="#007000"/>
<rect x="359.88" y="454.22" width="4.8" height="4.6" fill="#007000"/>
<rect x="51.60" y="621.20" width="4.8" height="4.6" fill="#ff00ff"/>
<rect x="102.98" y="522.54" width="4.8" height="4.6" fill="#ff00ff"/>
<rect x="154.36" y="503.99" width="4.8" height="4.6" fill="#ff00ff"/>
<rect x="205.74" y="473.36" width="4.8" height="4.6" fill="#ff00ff"/>
<rect x="257.12" y="467.47" width="4.8" height="4.6" fill="#ff00ff"/>
<rect x="359.88" y="461.29" width="4.8" height="4.6" fill="#ff00ff"/>
</g>
<line x1="53.70" y1="357.85" x2="53.70" y2="624.10" stroke="#1a1a1a" stroke-width="1.4"/>
<line x1="53.10" y1="623.50" x2="413.96" y2="623.50" stroke="#1a1a1a" stroke-width="1.4"/>
<line x1="299.90" y1="530.40" x2="328.70" y2="530.40" stroke="#505050" stroke-width="1.5"/>
<text x="332.40" y="534.90" font-family="Liberation Serif" font-size="12.5" text-anchor="start">0 mg/mL</text>
<line x1="299.90" y1="546.40" x2="328.70" y2="546.40" stroke="#a8283a" stroke-width="1.1"/>
<text x="332.40" y="550.65" font-family="Liberation Serif" font-size="12.5" text-anchor="start">0.024 mg/mL</text>
<line x1="299.90" y1="562.40" x2="328.70" y2="562.40" stroke="#45458a" stroke-width="1.1"/>
<text x="332.40" y="566.40" font-family="Liberation Serif" font-size="12.5" text-anchor="start">0.048 mg/mL</text>
<line x1="299.90" y1="578.30" x2="328.70" y2="578.30" stroke="#6a9a6a" stroke-width="1.1"/>
<text x="332.40" y="582.15" font-family="Liberation Serif" font-size="12.5" text-anchor="start">0.12 mg/mL</text>
<line x1="299.90" y1="593.90" x2="328.70" y2="593.90" stroke="#d8a0d8" stroke-width="1.6"/>
<text x="332.40" y="597.90" font-family="Liberation Serif" font-size="12.5" text-anchor="start">0.24 mg/mL</text>
</g>
</svg>
</body></html>
